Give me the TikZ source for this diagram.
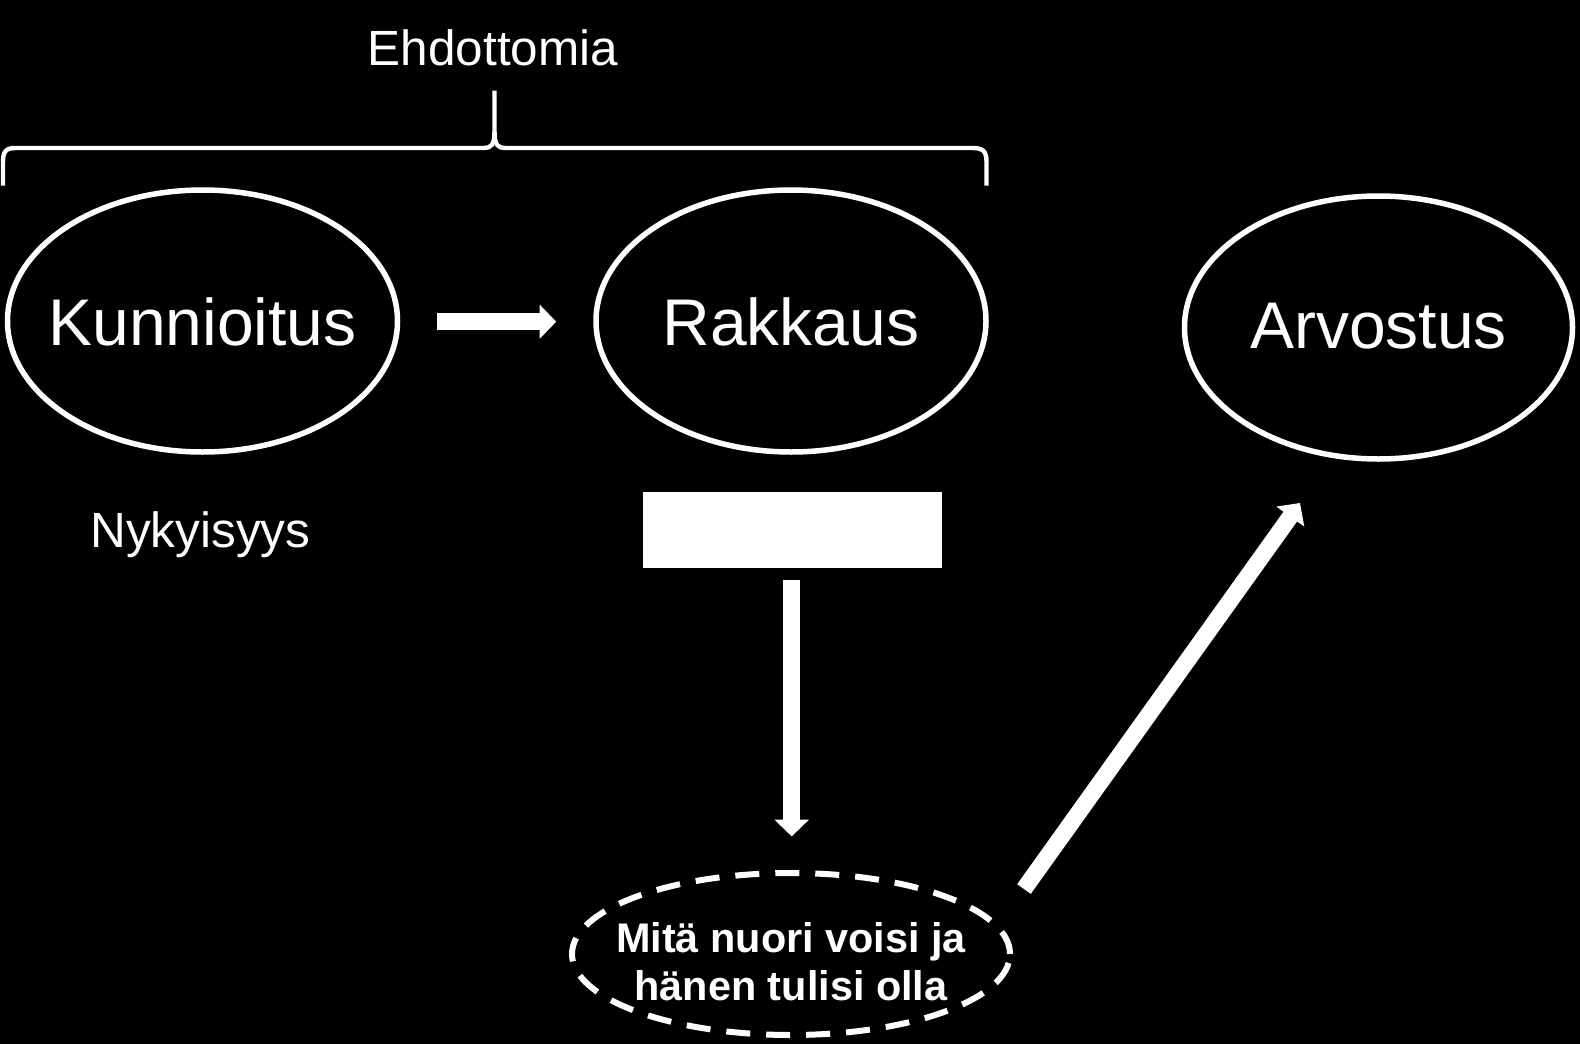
\documentclass[tikz,border=0pt]{standalone}
\usepackage{fontspec}
\setmainfont{Liberation Sans}
\usetikzlibrary{arrows.meta,shapes.geometric}
\begin{document}
\begin{tikzpicture}[x=0.5pt,y=-0.5pt,
  bigell/.style={draw=white, line width=2.75pt, ellipse, inner sep=0pt, minimum width=195pt, minimum height=131pt},
  bigtxt/.style={text=white, inner sep=0pt, anchor=base, font=\fontsize{33pt}{38pt}\selectfont},
  smalltxt/.style={text=white, inner sep=0pt, anchor=base, font=\fontsize{24.75pt}{29pt}\selectfont},
  dashell/.style={draw=white, line width=3pt, ellipse, inner sep=0pt, dash pattern=on 12pt off 8pt, minimum width=219pt, minimum height=81pt},
  boldtxt/.style={text=white, inner sep=0pt, align=center, font=\bfseries\fontsize{20.7pt}{24.2pt}\selectfont},
  fatarrow/.style={draw=white, line width=8.35pt, line cap=butt, -{Triangle[length=8.35pt,width=16.7pt]}},
  bracestyle/.style={draw=white, line width=2.2pt, line cap=butt, line join=round}
]
\fill[black] (0,0) rectangle (1580,1044);
\useasboundingbox (0,0) rectangle (1580,1044);

% title and brace
\node[smalltxt] (ehd) at (493,65.5) {Ehdottomia};
\draw[bracestyle] (3,185.5) -- (3,162) .. controls (3,151) and (6,148) .. (16,148)
  -- (484,148) .. controls (491,148) and (494.5,145) .. (494.5,132) -- (494.5,90.5);
\draw[bracestyle] (494.5,132) .. controls (494.5,145) and (498,148) .. (505,148)
  -- (972,148) .. controls (983,148) and (986.5,151) .. (986.5,162) -- (986.5,185.5);

% ellipses
\node[bigell] (kun) at (202.5,321) {};
\node[bigtxt] (kunT) at (202.5,345.6) {Kunnioitus};
\node[bigell] (rak) at (791,321) {};
\node[bigtxt] (rakT) at (791,345.6) {Rakkaus};
\node[bigell, minimum width=194pt, minimum height=131.5pt] (arv) at (1378.5,327.5) {};
\node[bigtxt] (arvT) at (1378.5,348.6) {Arvostus};

\node[smalltxt] (nyk) at (200.5,547) {Nykyisyys};

% white rectangle
\node[fill=white, inner sep=0pt, minimum width=149.25pt, minimum height=38pt] (box) at (792.25,529.5) {};

% dashed ellipse
\node[dashell] (mita) at (791,954) {};
\node[boldtxt, anchor=base] (mitaT) at (791,952) {Mitä nuori voisi ja};
\node[boldtxt, anchor=base] (mitaT2) at (791,1000.5) {hänen tulisi olla};

% arrows
\draw[fatarrow, shorten <=18.5pt, shorten >=18.5pt] ([yshift=-0.35pt]kun.east) -- ([yshift=-0.35pt]rak.west);
\draw[fatarrow, shorten <=6.2pt, shorten >=16.8pt] (box.south -| mita.north) ++(0.7,0) coordinate (dtop) (dtop) -- (dtop |- mita.north);
\coordinate (diagA) at (1024,889);
\coordinate (diagB) at (1300,503);
\draw[fatarrow] (diagA) -- (diagB);
\end{tikzpicture}
\end{document}
